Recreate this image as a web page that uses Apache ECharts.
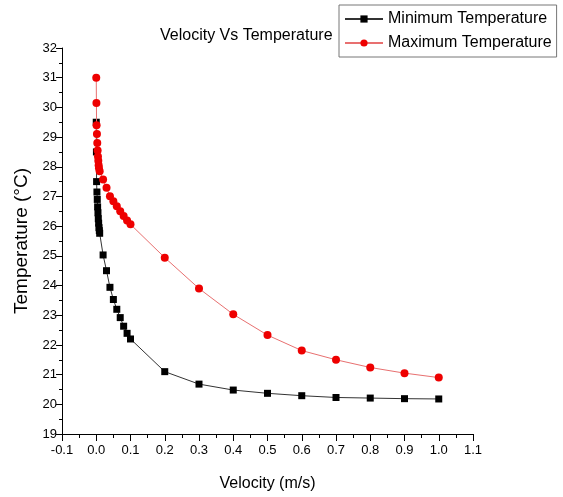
<!DOCTYPE html>
<html><head><meta charset="utf-8">
<script src="https://cdn.jsdelivr.net/npm/echarts@6/dist/echarts.min.js"></script>
<style>html,body{margin:0;padding:0;background:#fff}#c{width:563px;height:497px}</style>
</head><body><div id="c"></div>
<script>
const minVelocity = [0, 0.0005, 0.001, 0.002, 0.003, 0.004, 0.005, 0.006, 0.007, 0.008, 0.009, 0.01, 0.02, 0.03, 0.04, 0.05, 0.06, 0.07, 0.08, 0.09, 0.1, 0.2, 0.3, 0.4, 0.5, 0.6, 0.7, 0.8, 0.9, 1.0];
const minTemp = [29.5, 28.5, 27.5, 27.15, 26.9, 26.65, 26.45, 26.25, 26.1, 25.95, 25.85, 25.76, 25.03, 24.5, 23.94, 23.53, 23.2, 22.92, 22.63, 22.39, 22.2, 21.1, 20.68, 20.48, 20.37, 20.29, 20.23, 20.21, 20.19, 20.18];
const maxVelocity = [0, 0.0005, 0.001, 0.002, 0.003, 0.004, 0.005, 0.006, 0.007, 0.008, 0.01, 0.02, 0.03, 0.04, 0.05, 0.06, 0.07, 0.08, 0.09, 0.1, 0.2, 0.3, 0.4, 0.5, 0.6, 0.7, 0.8, 0.9, 1.0];
const maxTemp = [31.0, 30.15, 29.4, 29.1, 28.8, 28.55, 28.35, 28.2, 28.05, 27.95, 27.85, 27.57, 27.29, 27.01, 26.84, 26.67, 26.5, 26.34, 26.19, 26.06, 24.94, 23.9, 23.03, 22.33, 21.81, 21.5, 21.24, 21.05, 20.9];
const xTicks = {min: -0.1, max: 1.1, interval: 0.1};
const yTicks = {min: 19, max: 32, interval: 1};
const seriesNames = ['Minimum Temperature', 'Maximum Temperature'];

const font = 'Liberation Sans, Arial, sans-serif';
const chart = echarts.init(document.getElementById('c'), null, {renderer: 'canvas'});
const zip = (a, b) => a.map((v, i) => [v, b[i]]);
chart.setOption({
  animation: false,
  backgroundColor: '#fff',
  title: {
    text: 'Velocity Vs Temperature', left: 155, top: 23,
    textStyle: {fontFamily: font, fontSize: 16, fontWeight: 'normal', color: '#000'}
  },
  legend: {
    orient: 'vertical', left: 339, top: 5,
    padding: [6, 5, 6, 5], itemGap: 8,
    borderColor: '#777', borderWidth: 1,
    itemWidth: 38, itemHeight: 9,
    textStyle: {fontFamily: font, fontSize: 16, color: '#000'},
    data: seriesNames
  },
  grid: {left: 62, right: 90, top: 48, bottom: 63},
  xAxis: {
    type: 'value', min: xTicks.min, max: xTicks.max, interval: xTicks.interval,
    name: 'Velocity (m/s)', nameLocation: 'middle', nameGap: 42,
    nameTextStyle: {fontFamily: font, fontSize: 16, color: '#000'},
    axisLine: {show: true, onZero: false, lineStyle: {color: '#000', width: 1}},
    axisTick: {show: true, inside: false, length: 7, lineStyle: {color: '#000'}},
    minorTick: {show: true, splitNumber: 2, length: 4, lineStyle: {color: '#000'}},
    axisLabel: {fontFamily: font, fontSize: 13, color: '#000', margin: 10,
      formatter: v => (Math.round(v * 10) / 10).toFixed(1)},
    splitLine: {show: false}
  },
  yAxis: {
    type: 'value', min: yTicks.min, max: yTicks.max, interval: yTicks.interval,
    name: 'Temperature (\u00B0C)', nameLocation: 'middle', nameGap: 31,
    nameTextStyle: {fontFamily: font, fontSize: 19, color: '#000'},
    axisLine: {show: true, onZero: false, lineStyle: {color: '#000', width: 1}},
    axisTick: {show: true, inside: false, length: 6, lineStyle: {color: '#000'}},
    minorTick: {show: true, splitNumber: 2, length: 3, lineStyle: {color: '#000'}},
    axisLabel: {fontFamily: font, fontSize: 13, color: '#000', margin: 5},
    splitLine: {show: false}
  },
  series: [
    {
      name: seriesNames[0], type: 'line', data: zip(minVelocity, minTemp),
      symbol: 'rect', symbolSize: 7, z: 2,
      itemStyle: {color: '#000'},
      lineStyle: {color: '#333', width: 1}
    },
    {
      name: seriesNames[1], type: 'line', data: zip(maxVelocity, maxTemp),
      symbol: 'circle', symbolSize: 8, z: 3,
      itemStyle: {color: '#ee0000'},
      lineStyle: {color: '#e87070', width: 1}
    }
  ]
});
</script></body></html>
